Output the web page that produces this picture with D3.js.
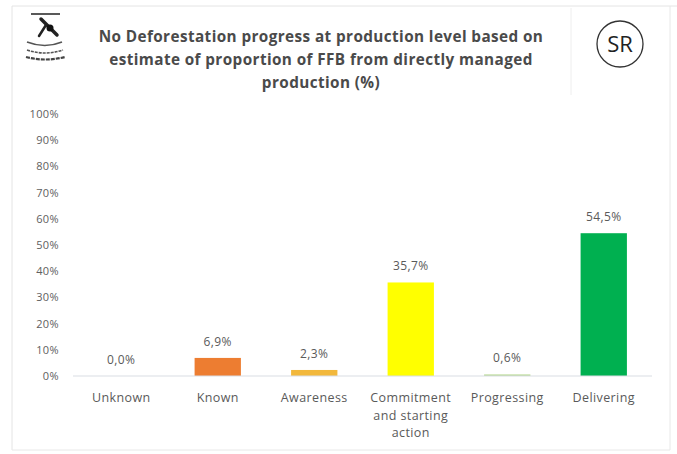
<!DOCTYPE html>
<html>
<head>
<meta charset="utf-8">
<script src="https://cdn.jsdelivr.net/npm/d3@7"></script>
<style>
  body { margin: 0; background: #fff; }
  svg { display: block; font-family: "Open Sans", sans-serif; }
</style>
</head>
<body>
<div id="chart"></div>
<script>
const categories = ["Unknown", "Known", "Awareness", "Commitment and starting action", "Progressing", "Delivering"];
const values = [0.0, 6.9, 2.3, 35.7, 0.6, 54.5];
const colors = ["#e02020", "#ed7d31", "#f2b83c", "#ffff00", "#b8d993", "#00b050"];
const yTicks = [0, 10, 20, 30, 40, 50, 60, 70, 80, 90, 100];
const titleLines = [
  "No Deforestation progress at production level based on",
  "estimate of proportion of FFB from directly managed",
  "production (%)"
];

const width = 677, height = 454;
const svg = d3.select("#chart").append("svg")
  .attr("width", width).attr("height", height);

// frame
svg.append("path")
  .attr("d", "M12,450 V6 H677")
  .attr("fill", "none").attr("stroke", "#e4e4e4");
svg.append("path")
  .attr("d", "M12,450 H670 V6")
  .attr("fill", "none").attr("stroke", "#e8e8e8");
svg.append("line")
  .attr("x1", 571).attr("x2", 571).attr("y1", 8).attr("y2", 95)
  .attr("stroke", "#eeeeee");

// logo (rough)
const logo = svg.append("g").attr("fill", "none").attr("stroke", "#222");
logo.append("line").attr("x1", 31).attr("x2", 60).attr("y1", 14).attr("y2", 14).attr("stroke-width", 1.5);
logo.append("path").attr("d", "M41,19 L57,35").attr("stroke-width", 3.5).attr("stroke-linecap", "round");
logo.append("circle").attr("cx", 50).attr("cy", 28).attr("r", 3.5).attr("fill", "#111").attr("stroke", "none");
logo.append("path").attr("d", "M46,25 L39,36").attr("stroke-width", 2.5).attr("stroke-linecap", "round");
logo.append("path").attr("d", "M27,42 Q45,49 62,42").attr("stroke-width", 1.6).attr("stroke", "#555");
logo.append("path").attr("d", "M27,50 Q45,56 63,50").attr("stroke-width", 1.6).attr("stroke", "#555").attr("stroke-dasharray", "3,1");
logo.append("path").attr("d", "M26,57 Q45,62 65,57").attr("stroke-width", 2.2).attr("stroke", "#444").attr("stroke-dasharray", "4,1");

// SR badge
svg.append("circle").attr("cx", 620).attr("cy", 44).attr("r", 23)
  .attr("fill", "none").attr("stroke", "#333").attr("stroke-width", 1.3);
svg.append("text").attr("x", 620).attr("y", 52).attr("text-anchor", "middle")
  .attr("font-size", 22).attr("fill", "#222").text("SR");

// title
svg.append("g").selectAll("text").data(titleLines).join("text")
  .attr("x", 321).attr("y", (d, i) => 42 + i * 23)
  .attr("text-anchor", "middle")
  .attr("font-size", 15.3).attr("font-weight", "bold").attr("fill", "#4a4a4a")
  .attr("letter-spacing", 0.4)
  .text(d => d);

const x = d3.scaleBand().domain(categories).range([73, 652]).paddingInner(0.52).paddingOuter(0.26);
const y = d3.scaleLinear().domain([0, 100]).range([376, 114]);

// y axis
const yAxis = svg.append("g")
  .attr("transform", "translate(61,0)")
  .call(d3.axisLeft(y).tickValues(yTicks).tickFormat(d => d + "%").tickSize(0).tickPadding(2));
yAxis.select(".domain").remove();
yAxis.selectAll("text").attr("font-size", 11).attr("fill", "#606060")
  .attr("letter-spacing", 0.4).attr("font-family", "Open Sans, sans-serif");

// bars
svg.append("g").selectAll("rect").data(values).join("rect")
  .attr("x", (d, i) => x(categories[i]))
  .attr("width", x.bandwidth())
  .attr("y", d => y(d))
  .attr("height", d => y(0) - y(d))
  .attr("fill", (d, i) => colors[i]);

// baseline
svg.append("line")
  .attr("x1", 73).attr("x2", 652).attr("y1", y(0)).attr("y2", y(0))
  .attr("stroke", "#d9dde3").attr("stroke-width", 1);

// value labels
svg.append("g").selectAll("text").data(values).join("text")
  .attr("x", (d, i) => x(categories[i]) + x.bandwidth() / 2)
  .attr("y", d => y(d) - 12)
  .attr("text-anchor", "middle")
  .attr("font-size", 12).attr("fill", "#5a5a5a").attr("letter-spacing", 0.4)
  .text(d => d.toFixed(1).replace(".", ",") + "%");

// category labels
const catLines = {
  "Commitment and starting action": ["Commitment", "and starting", "action"]
};
const cat = svg.append("g").selectAll("text").data(categories).join("text")
  .attr("x", d => x(d) + x.bandwidth() / 2)
  .attr("y", 402)
  .attr("text-anchor", "middle")
  .attr("font-size", 12.5).attr("fill", "#5a5a5a").attr("letter-spacing", 0.4);
cat.selectAll("tspan").data(d => catLines[d] || [d]).join("tspan")
  .attr("x", function () { return d3.select(this.parentNode).attr("x"); })
  .attr("dy", (d, i) => i === 0 ? 0 : 17.5)
  .text(d => d);
</script>
</body>
</html>
